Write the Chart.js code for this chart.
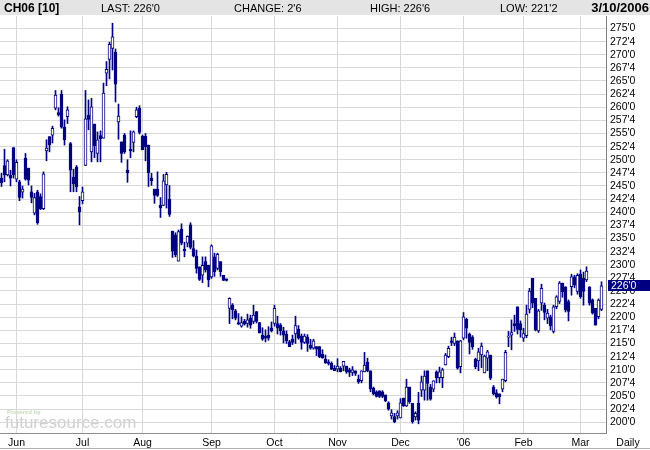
<!DOCTYPE html>
<html>
<head>
<meta charset="utf-8">
<script src="https://cdn.jsdelivr.net/npm/chart.js@4.4.0/dist/chart.umd.min.js"></script>
<style>
  html, body { margin: 0; padding: 0; background: #fff; }
  #wrap { width: 650px; height: 450px; }
</style>
</head>
<body>
<div id="wrap"><canvas id="myChart" width="650" height="450"></canvas></div>
<script>
// CH06 - velas diarias, 24/05/2005 a 10/03/2006 (201 sesiones)
const opens = [
  246.5, 248.9, 247.1, 247.1, 252.3, 246.3, 245.8, 243.8, 250.3, 248.4,
  243.9, 239.8, 243.9, 243.0, 240.7, 251.7, 254.4, 254.7, 259.8, 259.0,
  262.5, 256.2, 258.2, 253.1, 246.7, 248.6, 241.0, 242.2, 248.9, 258.5,
  251.5, 256.8, 251.2, 254.6, 254.1, 266.5, 269.1, 271.2, 270.5, 257.2,
  253.4, 254.7, 248.0, 252.0, 253.3, 258.2, 259.8, 254.5, 254.5, 252.8,
  246.5, 244.4, 244.4, 241.3, 241.3, 245.2, 242.5, 236.4, 235.7, 230.7,
  236.8, 233.0, 234.1, 237.6, 233.1, 231.6, 229.6, 228.0, 230.6, 229.9,
  227.7, 231.5, 229.3, 230.6, 228.0, 227.3, 221.7, 222.3, 221.2, 219.0,
  218.3, 219.2, 218.8, 219.8, 219.2, 221.1, 219.0, 216.6, 216.4, 216.6,
  218.0, 218.8, 218.8, 218.5, 217.4, 216.8, 215.3, 215.8, 216.8, 217.7,
  216.4, 215.2, 216.2, 214.7, 214.1, 214.4, 214.4, 213.0, 212.0, 211.5,
  211.2, 210.3, 210.1, 210.3, 210.7, 210.7, 210.0, 209.5, 209.8, 208.2,
  207.9, 209.6, 211.4, 209.8, 206.5, 205.8, 206.0, 205.8, 205.2, 203.7,
  201.2, 201.1, 201.2, 200.8, 204.6, 203.1, 206.7, 203.6, 201.0, 203.6,
  206.1, 206.1, 209.8, 206.7, 206.3, 209.6, 208.5, 208.5, 210.9, 212.5,
  215.5, 215.0, 215.5, 210.6, 216.0, 219.6, 216.8, 216.2, 212.0, 211.7,
  212.8, 209.4, 212.2, 212.8, 206.7, 205.6, 205.4, 206.3, 207.9, 216.2,
  216.6, 218.8, 222.0, 218.8, 216.0, 216.5, 221.5, 227.4, 223.6, 217.4,
  222.7, 222.3, 219.8, 220.1, 217.3, 222.0, 223.0, 226.5, 225.8, 223.0,
  225.8, 227.7, 224.9, 228.2, 227.4, 227.1, 225.8, 223.3, 221.7, 220.1,
  221.5
];
const highs = [
  247.4, 252.0, 250.0, 248.0, 252.3, 250.0, 246.1, 245.0, 251.2, 248.4,
  245.0, 243.6, 244.2, 243.5, 247.7, 253.8, 254.4, 256.4, 263.2, 259.9,
  263.2, 257.6, 260.1, 253.3, 248.2, 248.9, 243.0, 244.8, 263.2, 261.4,
  261.7, 256.8, 255.3, 255.5, 264.6, 268.7, 272.4, 276.0, 271.1, 260.6,
  253.4, 255.0, 250.0, 255.5, 255.5, 260.0, 260.3, 254.7, 255.0, 252.8,
  247.4, 244.4, 247.7, 242.8, 247.2, 247.6, 245.1, 236.4, 236.1, 236.6,
  237.8, 234.3, 235.5, 238.0, 234.6, 232.8, 229.6, 231.5, 231.5, 229.9,
  233.8, 232.2, 232.2, 230.6, 228.0, 227.3, 223.7, 222.6, 221.5, 220.7,
  220.1, 219.6, 220.6, 220.4, 222.3, 221.1, 219.0, 218.0, 217.6, 218.2,
  219.1, 222.3, 220.2, 218.8, 218.1, 217.4, 215.6, 216.6, 220.2, 218.4,
  216.8, 216.8, 216.7, 215.8, 215.8, 214.4, 214.4, 213.8, 212.8, 211.9,
  211.5, 210.8, 212.1, 210.6, 211.6, 210.7, 210.3, 210.6, 209.8, 209.0,
  209.8, 213.3, 212.2, 209.8, 206.7, 206.0, 206.0, 206.0, 205.2, 203.9,
  202.4, 201.7, 202.2, 204.5, 204.6, 208.2, 206.7, 203.6, 202.0, 205.7,
  208.8, 209.8, 209.8, 207.2, 207.9, 209.8, 210.5, 210.3, 213.1, 214.5,
  216.2, 217.0, 215.5, 215.6, 220.9, 219.8, 217.0, 216.5, 212.2, 214.1,
  215.1, 212.8, 213.7, 212.8, 207.0, 206.2, 205.4, 208.2, 213.7, 217.3,
  219.5, 220.4, 222.0, 219.3, 217.9, 222.3, 225.5, 227.4, 223.6, 221.5,
  226.3, 222.7, 221.5, 220.4, 222.3, 224.1, 226.8, 226.5, 225.8, 223.3,
  228.2, 228.0, 228.3, 229.0, 228.6, 229.6, 225.8, 223.5, 221.7, 223.5,
  226.75
];
const lows = [
  244.9, 245.8, 246.9, 245.0, 246.5, 245.8, 242.2, 242.7, 246.1, 245.2,
  241.8, 239.5, 237.7, 240.5, 240.5, 249.8, 251.5, 253.2, 259.5, 258.3,
  256.0, 252.8, 256.9, 243.9, 243.9, 243.9, 237.6, 241.6, 248.9, 255.7,
  249.6, 250.4, 249.6, 249.6, 254.1, 264.1, 265.4, 267.1, 261.0, 253.9,
  249.5, 251.2, 245.7, 250.4, 251.5, 258.0, 254.9, 251.9, 249.8, 244.9,
  245.1, 241.7, 243.0, 239.0, 241.3, 240.8, 239.2, 231.4, 231.5, 230.7,
  233.8, 231.5, 233.4, 233.0, 231.5, 228.4, 227.0, 226.6, 228.6, 225.8,
  227.4, 227.8, 229.0, 227.8, 227.0, 226.9, 218.8, 219.7, 219.5, 218.6,
  218.1, 218.5, 218.1, 217.9, 218.8, 218.9, 217.0, 215.6, 215.3, 215.6,
  217.2, 218.3, 216.8, 216.6, 215.1, 215.0, 214.4, 214.8, 215.0, 215.8,
  213.9, 215.0, 213.5, 213.9, 213.9, 212.7, 212.3, 212.2, 211.2, 210.9,
  210.0, 209.8, 209.6, 209.6, 209.8, 209.3, 208.7, 208.9, 208.9, 207.4,
  207.5, 209.6, 209.6, 205.8, 205.2, 204.8, 204.7, 204.7, 203.9, 202.3,
  200.6, 199.9, 200.6, 200.8, 203.0, 203.0, 203.6, 199.8, 200.4, 199.7,
  204.9, 204.2, 204.2, 204.2, 205.8, 207.5, 207.5, 206.6, 210.9, 212.3,
  214.6, 214.6, 210.1, 209.4, 215.7, 216.0, 213.0, 213.9, 210.2, 209.8,
  210.4, 209.4, 209.8, 208.1, 205.2, 204.6, 203.5, 205.8, 207.7, 214.4,
  213.8, 217.3, 216.8, 216.2, 215.4, 216.1, 220.8, 221.8, 217.4, 217.1,
  221.3, 219.5, 218.8, 217.6, 217.0, 221.6, 222.6, 223.8, 221.0, 219.3,
  224.2, 225.6, 224.4, 223.6, 222.3, 226.8, 222.3, 220.6, 218.5, 219.7,
  221.25
];
const closes = [
  245.6, 247.1, 249.8, 246.5, 247.1, 249.5, 242.8, 244.4, 246.3, 246.1,
  242.8, 242.8, 238.0, 240.7, 247.3, 252.2, 252.8, 256.0, 262.3, 258.6,
  256.2, 253.8, 259.5, 248.0, 245.4, 244.8, 240.1, 243.9, 257.8, 257.7,
  260.1, 252.7, 253.8, 254.0, 262.7, 267.2, 272.0, 273.4, 264.4, 258.3,
  251.2, 251.5, 247.5, 251.7, 255.3, 259.5, 255.2, 251.9, 252.5, 247.5,
  246.0, 243.2, 243.2, 240.8, 246.0, 247.2, 239.6, 232.6, 231.9, 236.3,
  234.1, 232.7, 235.4, 233.3, 231.7, 229.3, 227.2, 229.9, 229.0, 227.1,
  233.6, 228.7, 232.0, 228.7, 227.0, 227.0, 223.6, 221.4, 219.8, 218.7,
  219.0, 218.7, 219.5, 218.5, 220.4, 219.2, 217.0, 215.8, 216.0, 216.0,
  217.4, 221.7, 217.9, 217.4, 216.6, 215.5, 214.4, 215.2, 218.4, 216.0,
  215.2, 216.4, 215.0, 214.1, 215.5, 213.9, 212.5, 212.2, 211.3, 211.2,
  210.1, 209.8, 210.7, 209.6, 211.6, 209.6, 209.5, 210.0, 209.3, 207.7,
  209.8, 210.9, 209.8, 206.4, 205.4, 204.9, 204.9, 204.9, 204.1, 202.5,
  201.8, 200.1, 201.8, 203.7, 203.1, 206.7, 203.9, 200.1, 201.7, 200.4,
  207.7, 208.8, 207.4, 204.4, 207.9, 208.5, 209.6, 210.0, 212.8, 214.1,
  215.2, 216.2, 210.3, 215.5, 220.1, 217.9, 215.2, 214.4, 210.6, 213.4,
  214.5, 212.6, 213.4, 208.4, 205.4, 204.8, 204.8, 208.2, 213.3, 216.4,
  217.1, 218.4, 217.7, 217.6, 216.9, 220.6, 225.0, 222.7, 217.6, 221.2,
  225.5, 220.9, 220.8, 218.4, 222.0, 223.9, 226.5, 224.8, 221.4, 221.1,
  227.7, 226.1, 228.0, 223.9, 224.9, 228.8, 222.7, 220.8, 218.5, 223.25,
  226.0
];

// Etiquetas de meses y la sesión donde empieza cada uno
const monthLabels = ["Jun", "Jul", "Aug", "Sep", "Oct", "Nov", "Dec", "'06", "Feb", "Mar"];
const monthStarts = [5, 27, 47, 70, 91, 112, 133, 154, 174, 193];

// Ticks del eje de precios (cada 2'4)
const priceTicks = [];
for (let v = 200; v <= 275; v += 2.5) priceTicks.push(v);

const symbol = "CH06 [10]";
const lastDate = "3/10/2006";

const navy = "#000080";

// precio en octavos: 226.75 -> 226'6
function fmt(v) {
  let whole = Math.floor(v + 1e-9);
  let eighths = Math.round((v - whole) * 8);
  if (eighths === 8) { whole += 1; eighths = 0; }
  return whole + "'" + eighths;
}

const n = closes.length;
const lastClose = closes[n - 1];
const change = closes[n - 1] - closes[n - 2];

const decor = {
  id: "decor",
  beforeDraw(chart) {
    const c = chart.ctx;
    c.save();
    c.fillStyle = "#fff";
    c.fillRect(0, 0, chart.width, chart.height);
    // marca de agua
    c.fillStyle = "#c4dcb4";
    c.font = "bold 6px 'Liberation Sans'";
    c.textBaseline = "alphabetic";
    c.fillText("Powered by", 7, 414);
    c.fillStyle = "#cfcfcf";
    c.font = "17px 'Liberation Sans'";
    c.fillText("futuresource.com", 5, 428);
    c.restore();
  },
  afterDraw(chart) {
    const c = chart.ctx;
    const y = chart.scales.y;
    c.save();
    // cabecera
    c.fillStyle = "#e4e4e4";
    c.fillRect(0, 0, chart.width, 15);
    c.fillStyle = "#000";
    c.textBaseline = "alphabetic";
    c.font = "bold 12px 'Liberation Sans'";
    c.textAlign = "left";
    c.fillText(symbol, 4, 12);
    c.font = "11px 'Liberation Sans'";
    c.fillText("LAST: " + fmt(lastClose), 101, 12);
    c.fillText("CHANGE: " + fmt(change), 234, 12);
    c.fillText("HIGH: " + fmt(highs[n - 1]), 370, 12);
    c.fillText("LOW: " + fmt(lows[n - 1]), 500, 12);
    c.font = "bold 13px 'Liberation Sans'";
    c.textAlign = "right";
    c.fillText(lastDate, 649, 12);

    // recuadro del último precio
    const py = Math.round(y.getPixelForValue(lastClose));
    c.fillStyle = navy;
    c.fillRect(608, py - 6, 42, 11);
    c.fillStyle = "#fff";
    c.font = "10.5px 'Liberation Sans'";
    c.textAlign = "left";
    c.textBaseline = "middle";
    c.fillText(fmt(lastClose), 611, py);

    // "Daily" bajo el eje de precios
    c.fillStyle = "#000";
    c.textAlign = "center";
    c.font = "10.5px 'Liberation Sans'";
    c.fillText("Daily", 628, 443);

    c.strokeStyle = "#b0b0b0";
    c.lineWidth = 1;
    c.beginPath();
    c.moveTo(0, 448.5);
    c.lineTo(650, 448.5);
    c.stroke();
    c.restore();
  }
};

const ctx = document.getElementById("myChart");
const myChart = new Chart(ctx, {
  type: "bar",
  data: {
    datasets: [
      {
        // cuerpos de las velas
        label: "body",
        order: 0,
        data: opens.map((o, i) => ({ x: i, y: [o, closes[i]] })),
        backgroundColor: (c) => closes[c.dataIndex] >= opens[c.dataIndex] ? "#ffffff" : navy,
        borderColor: navy,
        borderWidth: 1,
        borderSkipped: false,
        barThickness: 3,
        minBarLength: 1,
        grouped: false
      },
      {
        // mechas
        label: "wick",
        order: 1,
        data: lows.map((l, i) => ({ x: i, y: [l, highs[i]] })),
        backgroundColor: navy,
        borderWidth: 0,
        barThickness: 1,
        grouped: false
      }
    ]
  },
  plugins: [decor],
  options: {
    responsive: false,
    animation: false,
    devicePixelRatio: 1,
    layout: { padding: { top: 16, left: 0, right: 0, bottom: 0 } },
    plugins: {
      legend: { display: false },
      tooltip: { enabled: false }
    },
    scales: {
      x: {
        type: "linear",
        offset: false,
        min: -0.5,
        max: 201.5,
        afterBuildTicks: (s) => { s.ticks = monthStarts.map((v) => ({ value: v })); },
        afterFit: (s) => { s.height = 17; },
        ticks: {
          autoSkip: false,
          maxRotation: 0,
          padding: 4,
          color: "#000",
          font: { family: "'Liberation Sans'", size: 10.5 },
          callback: (v) => monthLabels[monthStarts.indexOf(v)]
        },
        grid: { color: "#d8d8d8", drawTicks: false, offset: false },
        border: { display: true, color: "#8c8c8c" }
      },
      y: {
        type: "linear",
        position: "right",
        min: 197.95,
        max: 277.38,
        afterBuildTicks: (s) => { s.ticks = priceTicks.map((v) => ({ value: v })); },
        afterFit: (s) => { s.width = 44; },
        ticks: {
          autoSkip: false,
          padding: 4,
          color: "#000",
          font: { family: "'Liberation Sans'", size: 10.5 },
          callback: (v) => fmt(v)
        },
        grid: { color: "#d8d8d8", drawTicks: false },
        border: { display: true, color: "#808080" }
      }
    }
  }
});
</script>
</body>
</html>
